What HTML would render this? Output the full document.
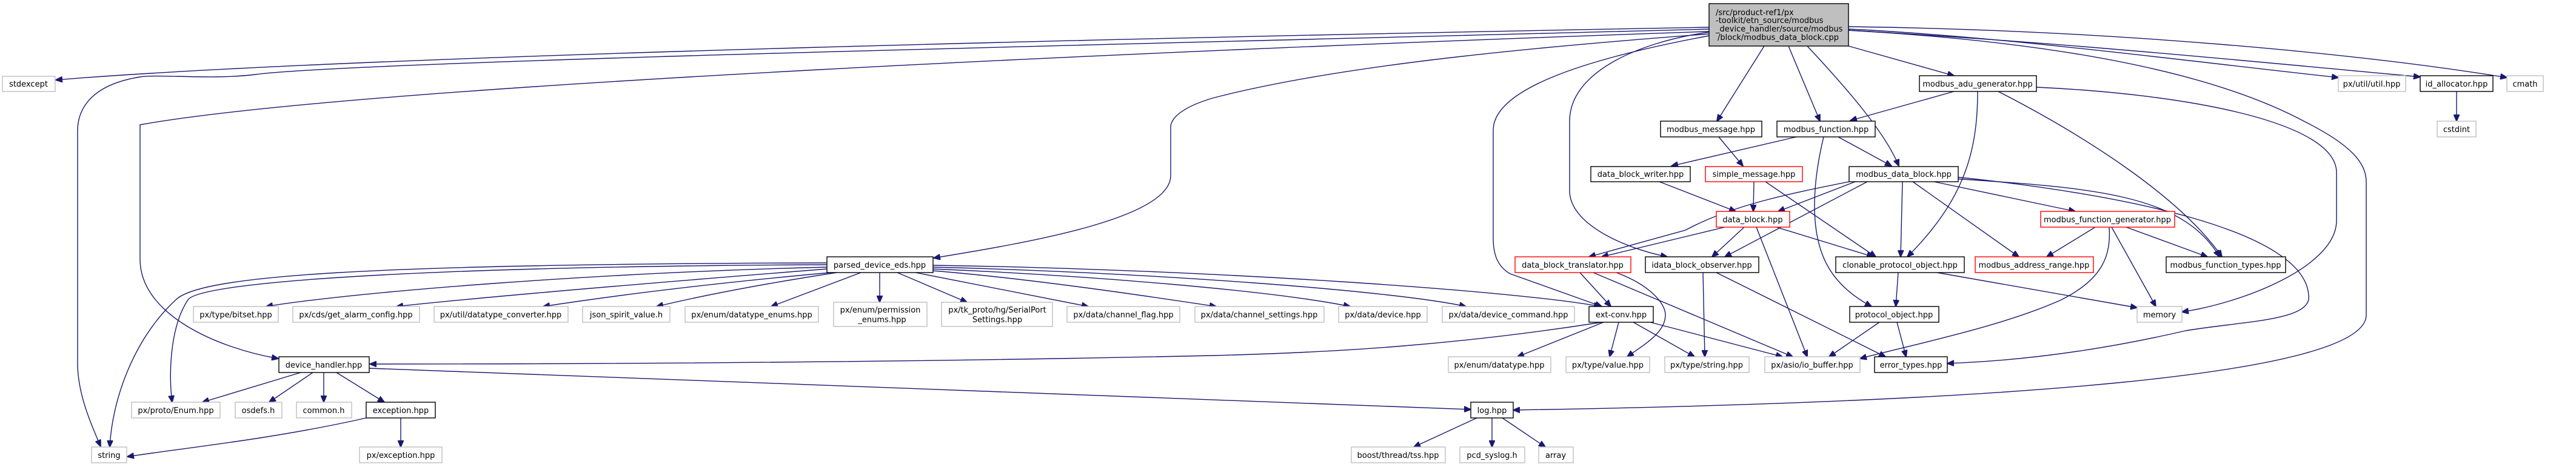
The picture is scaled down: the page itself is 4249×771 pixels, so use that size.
<!DOCTYPE html>
<html><head><meta charset="utf-8"><style>
html,body{margin:0;padding:0;background:#fff;}
svg{display:block;}
text{font-family:"DejaVu Sans","Liberation Sans",sans-serif;font-size:13px;fill:#000;}
.e{fill:none;stroke:#191970;stroke-width:1.4;marker-end:url(#a);}
.k{fill:#fff;stroke:#000;stroke-width:1.4;}
.g{fill:#fff;stroke:#bfbfbf;stroke-width:1.4;}
.r{fill:#fff;stroke:#ff0000;stroke-width:1.4;}
</style></head><body>
<svg width="4249" height="771" viewBox="0 0 4249 771" xmlns="http://www.w3.org/2000/svg">
<defs><marker id="a" markerUnits="userSpaceOnUse" markerWidth="12" markerHeight="10" refX="11" refY="5" orient="auto"><path d="M0,0 L12,5 L0,10 z" fill="#191970" stroke="#191970"/></marker></defs>
<g>
<!-- root edges -->
<path class="e" d="M2819,45 C2000,60 600,90 92,132"/>
<path class="e" d="M2819,48 C2000,70 600,100 421,123 C350,132 260,122 231,127 C150,140 128,180 128,216 L128,600 C128,650 150,700 166,737"/>
<path class="e" d="M2819,52 C2000,80 600,140 231,206 C231,206 231,206 231,206 L231,428 C231,520 360,575 459,592"/>
<path class="e" d="M2819,56 C2500,80 2200,110 2000,162 C1940,180 1931,200 1931,210 L1931,290 C1931,360 1700,400 1540,426"/>
<path class="e" d="M2819,59 C2600,100 2463,150 2463,215 L2463,393 C2463,420 2470,440 2491,452 L2642,506"/>
<path class="e" d="M2819,53 C2700,70 2589,120 2589,200 L2589,315 C2589,370 2680,410 2750,424"/>
<path class="e" d="M2910,76 L2832,200"/>
<path class="e" d="M2950,76 L3002,200"/>
<path class="e" d="M2981,76 C3050,150 3110,220 3132,274"/>
<path class="e" d="M3049,76 L3223,125"/>
<path class="e" d="M3049,48 C3300,60 3600,100 3857,128"/>
<path class="e" d="M3049,50 C3400,70 3700,100 3992,127"/>
<path class="e" d="M3049,44 C3500,50 3900,90 4135,128"/>
<path class="e" d="M3049,50 C3400,70 3650,120 3800,200 C3880,240 3903,270 3903,300 L3903,520 C3903,620 3300,664 2496,677"/>
<!-- parsed_device_eds edges -->
<path class="e" d="M1364,441 C1000,450 600,480 439,506"/>
<path class="e" d="M1364,444 C1100,465 800,490 654,506"/>
<path class="e" d="M1370,450 C1150,470 1000,490 896,506"/>
<path class="e" d="M1380,450 C1250,470 1150,490 1083,506"/>
<path class="e" d="M1420,450 L1272,506"/>
<path class="e" d="M1451,450 L1451,499"/>
<path class="e" d="M1480,450 L1595,499"/>
<path class="e" d="M1510,450 L1795,506"/>
<path class="e" d="M1539,447 C1700,460 1900,490 2006,506"/>
<path class="e" d="M1539,444 C1800,455 2100,480 2227,506"/>
<path class="e" d="M1539,441 C1900,450 2300,480 2418,506"/>
<path class="e" d="M1539,438 C2000,445 2500,480 2640,506"/>
<path class="e" d="M1364,437 C700,440 330,465 310,495 C280,540 278,620 284,664"/>
<path class="e" d="M1364,434 C600,436 330,455 290,495 C220,560 185,660 181,738"/>
<!-- device handler, log -->
<path class="e" d="M2642,532 C2400,570 2200,582 2000,587 C1500,598 1000,601 610,601"/>
<path class="e" d="M609,608 C1200,630 2000,660 2426,676"/>
<path class="e" d="M496,615 L334,664"/>
<path class="e" d="M516,615 L444,664"/>
<path class="e" d="M534,615 L534,664"/>
<path class="e" d="M555,615 L634,664"/>
<path class="e" d="M604,690 C450,725 300,740 210,754"/>
<path class="e" d="M661,690 L661,738"/>
<path class="e" d="M2436,690 L2332,738"/>
<path class="e" d="M2461,690 L2461,738"/>
<path class="e" d="M2478,690 L2549,738"/>
<path class="e" d="M4052,151 L4052,200"/>
<!-- modbus edges -->
<path class="e" d="M3224,292 C3500,320 3800,380 3808,487 C3815,530 3700,530 3605,546 C3480,575 3350,595 3212,600"/>
<path class="e" d="M3359,144 C3600,155 3854,200 3854,285 L3854,364 C3854,440 3700,500 3599,515"/>
<path class="e" d="M3296,151 C3450,230 3600,330 3665,424"/>
<path class="e" d="M3223,151 L3052,199"/>
<path class="e" d="M3262,151 C3262,250 3240,330 3146,424"/>
<path class="e" d="M2963,226 L2757,274"/>
<path class="e" d="M3032,226 L3120,274"/>
<path class="e" d="M3008,226 C2995,280 2993,320 2993,340 C2993,420 3020,470 3087,506"/>
<path class="e" d="M2835,226 L2875,274"/>
<path class="e" d="M2737,300 L2863,349"/>
<path class="e" d="M2893,300 L2892,349"/>
<path class="e" d="M2912,300 L3094,424"/>
<path class="e" d="M3060,300 L2933,349"/>
<path class="e" d="M3050,300 C2950,320 2856,339 2780,380 L2621,424"/>
<path class="e" d="M3080,300 L2845,424"/>
<path class="e" d="M3138,300 L3135,424"/>
<path class="e" d="M3190,300 L3423,349"/>
<path class="e" d="M3155,300 L3330,424"/>
<path class="e" d="M3224,295 C3450,310 3600,320 3661,424"/>
<path class="e" d="M2845,375 L2642,424"/>
<path class="e" d="M2877,375 L2824,424"/>
<path class="e" d="M2930,375 L3090,424"/>
<path class="e" d="M2897,375 L2981,589"/>
<path class="e" d="M2606,450 L2657,506"/>
<path class="e" d="M2666,450 C2720,470 2747,500 2747,520 C2747,550 2710,570 2684,589"/>
<path class="e" d="M2628,450 L2957,589"/>
<path class="e" d="M2809,450 L2812,589"/>
<path class="e" d="M2831,450 L3110,589"/>
<path class="e" d="M3131,450 L3127,506"/>
<path class="e" d="M3195,450 L3525,508"/>
<path class="e" d="M3100,532 L3017,589"/>
<path class="e" d="M3129,532 L3144,589"/>
<path class="e" d="M3456,375 L3376,424"/>
<path class="e" d="M3483,375 L3556,506"/>
<path class="e" d="M3507,375 L3641,424"/>
<path class="e" d="M3479,375 C3482,420 3470,460 3400,495 C3300,540 3150,570 3068,592"/>
<path class="e" d="M2645,532 L2503,589"/>
<path class="e" d="M2670,532 L2655,589"/>
<path class="e" d="M2694,532 L2795,589"/>
<path class="e" d="M2722,532 L2940,589"/>
</g>
<g>
<rect x="2819" y="6" width="230" height="70" fill="#bfbfbf" stroke="#000" stroke-width="1.4"/>
<text x="2830" y="25">/src/product-ref1/px</text>
<text x="2830" y="38">-toolkit/etn_source/modbus</text>
<text x="2830" y="52">_device_handler/source/modbus</text>
<text x="2833" y="66">/block/modbus_data_block.cpp</text>
</g>
<g text-anchor="middle">
<rect class="g" x="4" y="126" width="87" height="25"/><text x="47" y="143" text-anchor="middle">stdexcept</text>
<rect class="k" x="3166" y="125" width="193" height="26"/><text x="3262" y="143" text-anchor="middle">modbus_adu_generator.hpp</text>
<rect class="g" x="3857" y="125" width="111" height="26"/><text x="3912" y="143" text-anchor="middle">px/util/util.hpp</text>
<rect class="k" x="3992" y="125" width="120" height="26"/><text x="4052" y="143" text-anchor="middle">id_allocator.hpp</text>
<rect class="g" x="4135" y="125" width="60" height="26"/><text x="4165" y="143" text-anchor="middle">cmath</text>
<rect class="g" x="4020" y="200" width="64" height="26"/><text x="4052" y="218" text-anchor="middle">cstdint</text>
<rect class="k" x="2739" y="200" width="167" height="26"/><text x="2822" y="218" text-anchor="middle">modbus_message.hpp</text>
<rect class="k" x="2931" y="200" width="162" height="26"/><text x="3012" y="218" text-anchor="middle">modbus_function.hpp</text>
<rect class="k" x="2624" y="275" width="164" height="25"/><text x="2706" y="292" text-anchor="middle">data_block_writer.hpp</text>
<rect class="r" x="2813" y="275" width="160" height="25"/><text x="2893" y="292" text-anchor="middle">simple_message.hpp</text>
<rect class="k" x="3050" y="275" width="180" height="25"/><text x="3140" y="292" text-anchor="middle">modbus_data_block.hpp</text>
<rect class="r" x="2831" y="349" width="121" height="26"/><text x="2891" y="367" text-anchor="middle">data_block.hpp</text>
<rect class="r" x="3366" y="349" width="221" height="26"/><text x="3476" y="367" text-anchor="middle">modbus_function_generator.hpp</text>
<rect class="k" x="1364" y="424" width="175" height="26"/><text x="1451" y="442" text-anchor="middle">parsed_device_eds.hpp</text>
<rect class="r" x="2499" y="424" width="191" height="26"/><text x="2594" y="442" text-anchor="middle">data_block_translator.hpp</text>
<rect class="k" x="2714" y="424" width="187" height="26"/><text x="2807" y="442" text-anchor="middle">idata_block_observer.hpp</text>
<rect class="k" x="3028" y="424" width="212" height="26"/><text x="3134" y="442" text-anchor="middle">clonable_protocol_object.hpp</text>
<rect class="r" x="3258" y="424" width="195" height="26"/><text x="3355" y="442" text-anchor="middle">modbus_address_range.hpp</text>
<rect class="k" x="3573" y="424" width="197" height="26"/><text x="3671" y="442" text-anchor="middle">modbus_function_types.hpp</text>
<rect class="g" x="319" y="506" width="140" height="26"/><text x="389" y="524" text-anchor="middle">px/type/bitset.hpp</text>
<rect class="g" x="483" y="506" width="209" height="26"/><text x="587" y="524" text-anchor="middle">px/cds/get_alarm_config.hpp</text>
<rect class="g" x="716" y="506" width="221" height="26"/><text x="826" y="524" text-anchor="middle">px/util/datatype_converter.hpp</text>
<rect class="g" x="961" y="506" width="144" height="26"/><text x="1033" y="524" text-anchor="middle">json_spirit_value.h</text>
<rect class="g" x="1130" y="506" width="220" height="26"/><text x="1240" y="524" text-anchor="middle">px/enum/datatype_enums.hpp</text>
<rect class="g" x="1375" y="499" width="154" height="40"/><text x="1452" y="516" text-anchor="middle">px/enum/permission</text><text x="1455" y="532" text-anchor="middle">_enums.hpp</text>
<rect class="g" x="1553" y="499" width="183" height="40"/><text x="1645" y="516" text-anchor="middle">px/tk_proto/hg/SerialPort</text><text x="1645" y="532" text-anchor="middle">Settings.hpp</text>
<rect class="g" x="1760" y="506" width="186" height="26"/><text x="1853" y="524" text-anchor="middle">px/data/channel_flag.hpp</text>
<rect class="g" x="1971" y="506" width="213" height="26"/><text x="2077" y="524" text-anchor="middle">px/data/channel_settings.hpp</text>
<rect class="g" x="2208" y="506" width="146" height="26"/><text x="2281" y="524" text-anchor="middle">px/data/device.hpp</text>
<rect class="g" x="2379" y="506" width="218" height="26"/><text x="2488" y="524" text-anchor="middle">px/data/device_command.hpp</text>
<rect class="k" x="2621" y="506" width="106" height="26"/><text x="2674" y="524" text-anchor="middle">ext-conv.hpp</text>
<rect class="k" x="3051" y="506" width="147" height="26"/><text x="3124" y="524" text-anchor="middle">protocol_object.hpp</text>
<rect class="g" x="3525" y="506" width="74" height="26"/><text x="3562" y="524" text-anchor="middle">memory</text>
<rect class="k" x="460" y="589" width="149" height="26"/><text x="534" y="607" text-anchor="middle">device_handler.hpp</text>
<rect class="g" x="2389" y="589" width="169" height="26"/><text x="2473" y="607" text-anchor="middle">px/enum/datatype.hpp</text>
<rect class="g" x="2583" y="589" width="138" height="26"/><text x="2652" y="607" text-anchor="middle">px/type/value.hpp</text>
<rect class="g" x="2746" y="589" width="139" height="26"/><text x="2815" y="607" text-anchor="middle">px/type/string.hpp</text>
<rect class="g" x="2911" y="589" width="157" height="26"/><text x="2989" y="607" text-anchor="middle">px/asio/io_buffer.hpp</text>
<rect class="k" x="3092" y="589" width="120" height="26"/><text x="3152" y="607" text-anchor="middle">error_types.hpp</text>
<rect class="g" x="217" y="664" width="146" height="26"/><text x="290" y="682" text-anchor="middle">px/proto/Enum.hpp</text>
<rect class="g" x="388" y="664" width="77" height="26"/><text x="426" y="682" text-anchor="middle">osdefs.h</text>
<rect class="g" x="489" y="664" width="91" height="26"/><text x="534" y="682" text-anchor="middle">common.h</text>
<rect class="k" x="604" y="664" width="114" height="26"/><text x="661" y="682" text-anchor="middle">exception.hpp</text>
<rect class="k" x="2426" y="664" width="70" height="26"/><text x="2461" y="682" text-anchor="middle">log.hpp</text>
<rect class="g" x="151" y="738" width="58" height="26"/><text x="180" y="756" text-anchor="middle">string</text>
<rect class="g" x="593" y="738" width="136" height="26"/><text x="661" y="756" text-anchor="middle">px/exception.hpp</text>
<rect class="g" x="2229" y="738" width="155" height="26"/><text x="2306" y="756" text-anchor="middle">boost/thread/tss.hpp</text>
<rect class="g" x="2408" y="738" width="107" height="26"/><text x="2461" y="756" text-anchor="middle">pcd_syslog.h</text>
<rect class="g" x="2538" y="738" width="57" height="26"/><text x="2566" y="756" text-anchor="middle">array</text>
</g>
</svg>
</body></html>
